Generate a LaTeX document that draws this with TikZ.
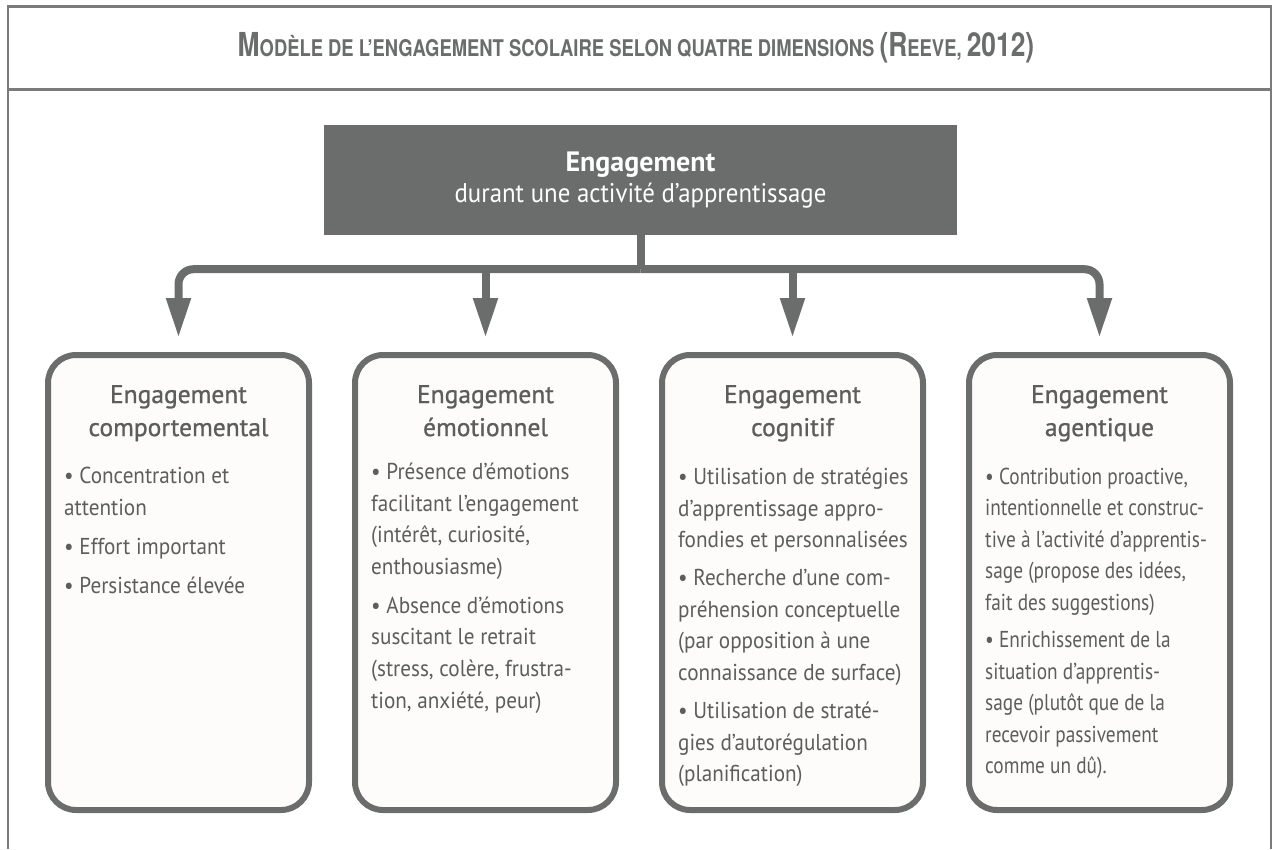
\documentclass[tikz,border=0pt]{standalone}
\usepackage{fontspec}
\setmainfont{PT Sans}
\newfontfamily\headfont[FakeBold=1]{PT Sans}
\newfontfamily\listfont[FakeStretch=0.92]{PT Sans}
\newfontfamily\tightfont[FakeStretch=0.84]{PT Sans}
\newfontfamily\titlefont[FakeStretch=0.8]{TeX Gyre Heros}
\usetikzlibrary{calc}
\usetikzlibrary{positioning}
\usetikzlibrary{arrows.meta}

\definecolor{linegray}{RGB}{107,109,108}
\definecolor{framegray}{RGB}{122,123,122}
\definecolor{txtgray}{RGB}{92,94,93}
\definecolor{cardfill}{RGB}{253,252,250}

\newcommand{\capbig}[1]{{\fontsize{33}{33}\selectfont #1}}

\begin{document}
\begin{tikzpicture}[x=1pt,y=-1pt,
    every node/.style={inner sep=0pt, text=txtgray},
    card/.style={draw=linegray, line width=6pt, fill=cardfill,
      rounded corners=28pt, minimum width=261pt, minimum height=455pt},
    cardhead/.style={align=center, font=\headfont\fontsize{25.5}{33}\selectfont},
    cardlist/.style={align=left, anchor=north west,
      font=\listfont\fontsize{23}{31.7}\selectfont},
    conn/.style={draw=linegray, line width=8pt},
    arr/.style={conn, rounded corners=15pt, shorten >=14pt,
      -{Triangle[width=23pt, length=40pt]}}
  ]
  \useasboundingbox (0,0) rectangle (1272,849);

  % frame and header
  \draw[framegray, line width=3pt] (7,6) -- (1272,6);
  \draw[framegray, line width=3pt] (7,89) -- (1272,89);
  \draw[framegray, line width=2pt] (8,5) -- (8,849);
  \draw[framegray, line width=2pt] (1271,5) -- (1271,849);
  \node[text=linegray, font=\titlefont\bfseries\fontsize{23}{23}\selectfont]
    (title) at (636,48)
    {\capbig{M}ODÈLE DE L’ENGAGEMENT SCOLAIRE SELON QUATRE DIMENSIONS \capbig{(R}EEVE, \capbig{2012)}};

  % top box
  \node[fill=linegray, text=white, minimum width=633pt, minimum height=110pt,
    align=center] (top) at (640.5,180)
    {{\bfseries\fontsize{28}{36}\selectfont Engagement}\\[4pt]
     {\listfont\fontsize{27}{36}\selectfont durant une activité d’apprentissage}};

  % the four cards
  \node[card] (comp) at (178.5,582.5) {};
  \node[card, right=40pt of comp] (emo) {};
  \node[card, right=40pt of emo] (cogn) {};
  \node[card, right=40pt of cogn] (agent) {};

  \node[cardhead, below=33pt of comp.north] (comp-h) {Engagement\\comportemental};
  \node[cardhead, below=33pt of emo.north] (emo-h) {Engagement\\émotionnel};
  \node[cardhead, below=33pt of cogn.north] (cogn-h) {Engagement\\cognitif};
  \node[cardhead, below=33pt of agent.north] (agent-h) {Engagement\\agentique};

  \node[cardlist] (comp-l) at ($(comp-h.south -| comp.west)+(19,26)$) {%
    • Concentration et\\attention\\[7pt]
    • Effort important\\[7pt]
    • Persistance élevée};
  \node[cardlist] (emo-l) at ($(emo-h.south -| emo.west)+(19,26)$) {%
    • Présence d’émotions\\facilitant l’engagement\\(intérêt, curiosité,\\enthousiasme)\\[7pt]
    • Absence d’émotions\\suscitant le retrait\\(stress, colère, frustra-\\tion, anxiété, peur)};
  \node[cardlist] (cogn-l) at ($(cogn-h.south -| cogn.west)+(19,26)$) {%
    • Utilisation de stratégies\\d’apprentissage appro-\\fondies et personnalisées\\[6pt]
    • Recherche d’une com-\\préhension conceptuelle\\(par opposition à une\\connaissance de surface)\\[6pt]
    • Utilisation de straté-\\gies d’autorégulation\\(planification)};
  \node[cardlist, font=\tightfont\fontsize{23}{31.5}\selectfont] (agent-l)
    at ($(agent-h.south -| agent.west)+(19,26)$) {%
    • Contribution proactive,\\intentionnelle et construc-\\tive à l’activité d’apprentis-\\sage (propose des idées,\\fait des suggestions)\\[6pt]
    • Enrichissement de la\\situation d’apprentis-\\sage (plutôt que de la\\recevoir passivement\\comme un dû).};

  % connectors
  \coordinate (fork) at ($(top.south)+(0,34)$);
  \draw[conn] (top.south) -- (fork);
  \draw[arr] (fork) -| (comp.north);
  \draw[arr] (fork) -| (agent.north);
  \draw[arr] (fork -| emo.north) -- (emo.north);
  \draw[arr] (fork -| cogn.north) -- (cogn.north);
\end{tikzpicture}
\end{document}
